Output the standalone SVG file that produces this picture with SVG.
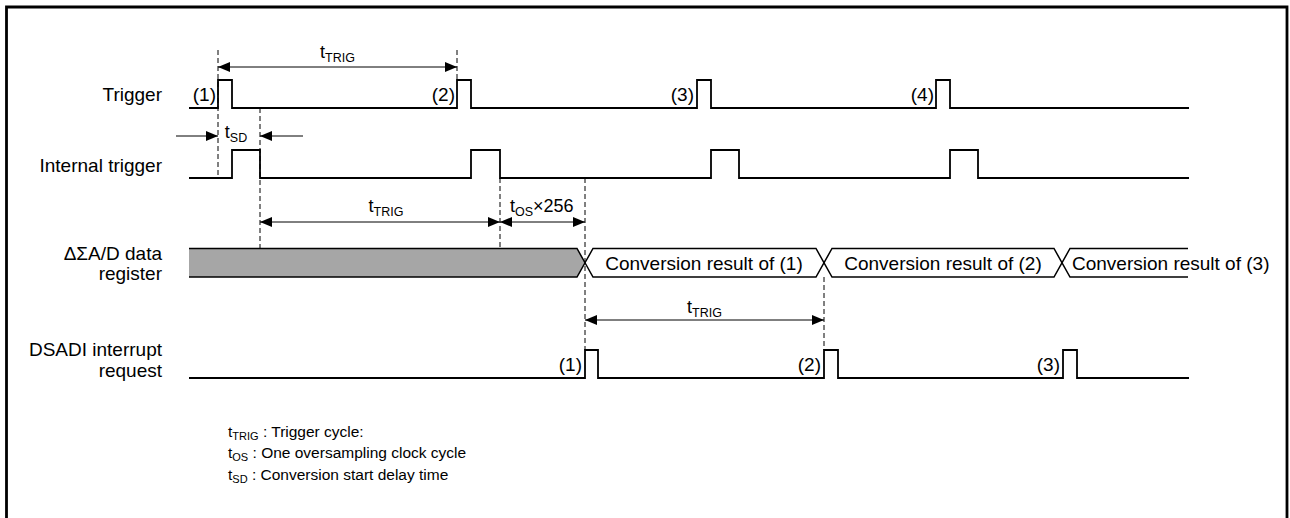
<svg xmlns="http://www.w3.org/2000/svg" width="1290" height="518" viewBox="0 0 1290 518">
<defs>
<marker id="ah" viewBox="0 0 12 10" markerWidth="12" markerHeight="10" refX="12" refY="5" orient="auto-start-reverse" markerUnits="userSpaceOnUse"><path d="M0,0 L12,5 L0,10 z" fill="#000"/></marker>
<style>
.sig{fill:none;stroke:#000;stroke-width:1.8;stroke-linejoin:miter}
.reg{fill:none;stroke:#000;stroke-width:1.5}
.dash{fill:none;stroke:#000;stroke-width:1;stroke-dasharray:5,3}
.arr2{fill:none;stroke:#000;stroke-width:1;marker-start:url(#ah);marker-end:url(#ah)}
.arr1{fill:none;stroke:#000;stroke-width:1;marker-end:url(#ah)}
text{font-family:"Liberation Sans",Arial,sans-serif;fill:#000}
.lbl{font-size:19px;text-anchor:end}
.conv{font-size:19px}
.ann{font-size:18px}
.sub{font-size:12.5px}
.leg{font-size:15.5px}
.lsub{font-size:11px}
</style>
</defs>
<rect width="1290" height="518" fill="#fff"/>
<path d="M6.5,518 V7 H1287 V518" fill="none" stroke="#000" stroke-width="2.8"/>

<g id="trigger">
<text class="lbl" x="162" y="101">Trigger</text>
<path class="sig" d="M189,108 H218 V80 H232 V108 H457 V80 H471 V108 H697 V80 H711 V108 H936 V80 H950 V108 H1189"/>
<text class="lbl" x="216" y="101">(1)</text>
<text class="lbl" x="455" y="101">(2)</text>
<text class="lbl" x="694" y="101">(3)</text>
<text class="lbl" x="934" y="101">(4)</text>
</g>

<g id="internal-trigger">
<text class="lbl" x="162" y="172">Internal trigger</text>
<path class="sig" d="M189,178 H232 V150 H260 V178 H471 V150 H500 V178 H711 V150 H739 V178 H950 V150 H978 V178 H1189"/>
</g>

<g id="register">
<text class="lbl" x="162" y="260">ΔΣA/D data</text>
<text class="lbl" x="162" y="280">register</text>
<polygon points="189,248.5 577,248.5 585,262.75 577,277 189,277" fill="#a6a6a6"/>
<path class="reg" d="M189,248.5 H577 L585,262.75 L577,277 H189"/>
<path class="reg" d="M585,262.75 L593,248.5 H816 L832,277 H1054 L1070,248.5 H1188"/>
<path class="reg" d="M585,262.75 L593,277 H816 L832,248.5 H1054 L1070,277 H1188"/>
<text class="conv" x="704" y="270" text-anchor="middle">Conversion result of (1)</text>
<text class="conv" x="943" y="270" text-anchor="middle">Conversion result of (2)</text>
<text class="conv" x="1072" y="270">Conversion result of (3)</text>
</g>

<g id="dsadi">
<text class="lbl" x="162" y="356">DSADI interrupt</text>
<text class="lbl" x="162" y="377">request</text>
<path class="sig" d="M189,378 H585 V350 H598 V378 H824 V350 H838 V378 H1063 V350 H1077 V378 H1189"/>
<text class="lbl" x="582" y="371">(1)</text>
<text class="lbl" x="821" y="371">(2)</text>
<text class="lbl" x="1060" y="371">(3)</text>
</g>

<g id="connectors">
<path class="dash" d="M218,50 V178 M457,50 V80 M260,108 V248.5 M500,178 V248.5 M585,178 V350 M824,277 V350"/>
<path class="arr2" d="M218,67 H457"/>
<path class="arr1" d="M176,136 H218"/>
<path class="arr1" d="M303,136 H260"/>
<path class="arr2" d="M260,222 H500"/>
<path class="arr2" d="M500,222 H585"/>
<path class="arr2" d="M585,320 H824"/>
<text class="ann" x="337.5" y="58" text-anchor="middle">t<tspan class="sub" dy="4">TRIG</tspan></text>
<text class="ann" x="236" y="138" text-anchor="middle">t<tspan class="sub" dy="4">SD</tspan></text>
<text class="ann" x="386" y="212" text-anchor="middle">t<tspan class="sub" dy="4">TRIG</tspan></text>
<text class="ann" x="510" y="212">t<tspan class="sub" dy="4">OS</tspan><tspan dy="-4">×256</tspan></text>
<text class="ann" x="704.5" y="313" text-anchor="middle">t<tspan class="sub" dy="4">TRIG</tspan></text>
</g>

<g id="legend">
<text class="leg" x="228" y="437">t<tspan class="lsub" dy="3">TRIG</tspan><tspan dy="-3"> : Trigger cycle:</tspan></text>
<text class="leg" x="228" y="458">t<tspan class="lsub" dy="3">OS</tspan><tspan dy="-3"> : One oversampling clock cycle</tspan></text>
<text class="leg" x="228" y="480">t<tspan class="lsub" dy="3">SD</tspan><tspan dy="-3"> : Conversion start delay time</tspan></text>
</g>
</svg>
